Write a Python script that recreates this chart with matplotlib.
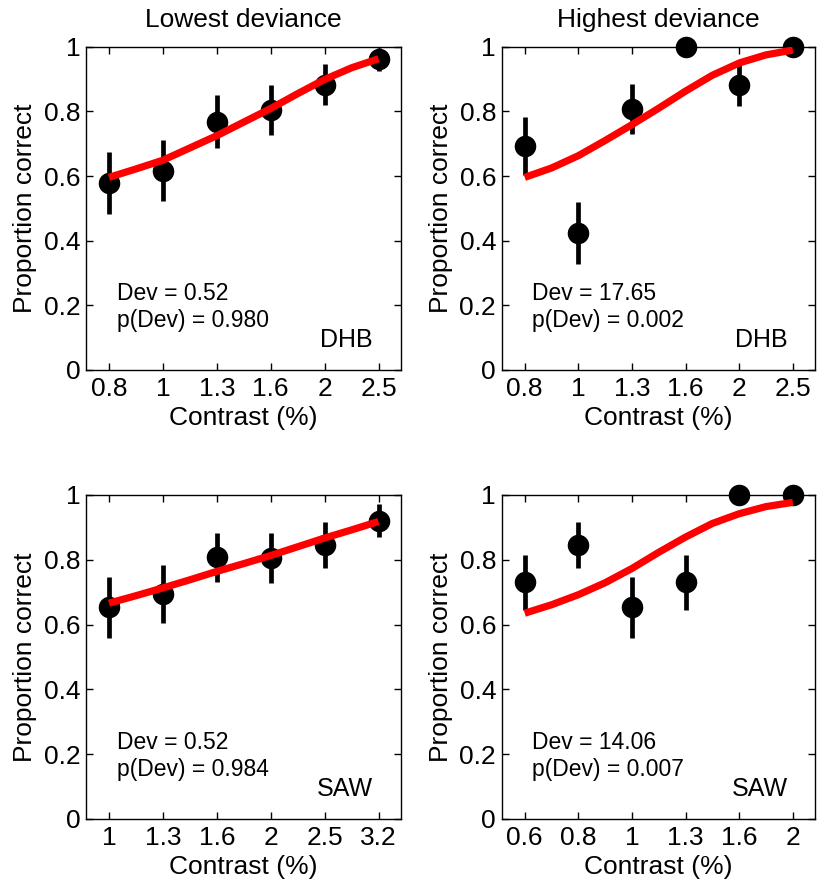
import matplotlib
matplotlib.use("Agg")
import matplotlib.pyplot as plt

plt.rcParams['font.family'] = ['Liberation Sans', 'DejaVu Sans']

# posiciones de los niveles de contraste (escala logaritmica, equiespaciados)
pos = [1, 2, 3, 4, 5, 6]
curve_pos = [1, 1.5, 2, 2.5, 3, 3.5, 4, 4.5, 5, 5.5, 6]

# DHB, menor desviacion
dhb_low_labels = ['0.8', '1', '1.3', '1.6', '2', '2.5']
dhb_low_y = [0.578, 0.617, 0.768, 0.804, 0.883, 0.961]
dhb_low_err = [0.095, 0.095, 0.082, 0.078, 0.063, 0.035]
dhb_low_fit = [0.596, 0.622, 0.649, 0.687, 0.725, 0.767, 0.809, 0.855, 0.899, 0.935, 0.963]

# DHB, mayor desviacion
dhb_high_labels = ['0.8', '1', '1.3', '1.6', '2', '2.5']
dhb_high_y = [0.692, 0.424, 0.808, 1.0, 0.883, 1.0]
dhb_high_err = [0.090, 0.095, 0.077, 0.0, 0.065, 0.0]
dhb_high_fit = [0.596, 0.625, 0.663, 0.710, 0.759, 0.810, 0.863, 0.912, 0.950, 0.975, 0.990]

# SAW, menor desviacion
saw_low_labels = ['1', '1.3', '1.6', '2', '2.5', '3.2']
saw_low_y = [0.653, 0.695, 0.807, 0.805, 0.846, 0.921]
saw_low_err = [0.093, 0.090, 0.077, 0.077, 0.071, 0.052]
saw_low_fit = [0.666, 0.689, 0.713, 0.738, 0.764, 0.788, 0.813, 0.840, 0.867, 0.892, 0.918]

# SAW, mayor desviacion
saw_high_labels = ['0.6', '0.8', '1', '1.3', '1.6', '2']
saw_high_y = [0.730, 0.846, 0.653, 0.730, 1.0, 1.0]
saw_high_err = [0.086, 0.071, 0.093, 0.086, 0.0, 0.0]
saw_high_fit = [0.635, 0.661, 0.692, 0.729, 0.773, 0.823, 0.870, 0.912, 0.942, 0.964, 0.977]

fig = plt.figure(figsize=(8.17, 8.83), dpi=100)

paneles = [
    ([0.105, 0.581, 0.386, 0.366], dhb_low_labels, dhb_low_y, dhb_low_err, dhb_low_fit,
     'Dev = 0.52', 'p(Dev) = 0.980', 'DHB', 'Lowest deviance'),
    ([0.614, 0.581, 0.384, 0.366], dhb_high_labels, dhb_high_y, dhb_high_err, dhb_high_fit,
     'Dev = 17.65', 'p(Dev) = 0.002', 'DHB', 'Highest deviance'),
    ([0.105, 0.0725, 0.386, 0.367], saw_low_labels, saw_low_y, saw_low_err, saw_low_fit,
     'Dev = 0.52', 'p(Dev) = 0.984', 'SAW', None),
    ([0.614, 0.0725, 0.384, 0.367], saw_high_labels, saw_high_y, saw_high_err, saw_high_fit,
     'Dev = 14.06', 'p(Dev) = 0.007', 'SAW', None),
]

for rect, labels, y, err, fit, t1, t2, obs, title in paneles:
    ax = fig.add_axes(rect)
    ax.errorbar(pos, y, yerr=err, fmt='o', color='black', ms=14.5, elinewidth=3.4,
                capsize=0, clip_on=False, zorder=3)
    ax.plot(curve_pos, fit, color='red', lw=5.2, solid_capstyle='butt', zorder=4)
    ax.set_xlim(0.57, 6.42)
    ax.set_ylim(0, 1)
    ax.set_xticks(pos)
    ax.set_xticklabels(labels)
    ax.set_yticks([0, 0.2, 0.4, 0.6, 0.8, 1])
    ax.set_yticklabels(['0', '0.2', '0.4', '0.6', '0.8', '1'])
    ax.tick_params(direction='in', length=5, width=1, labelsize=19, top=True, right=True)
    ax.tick_params(axis='x', pad=5)
    ax.tick_params(axis='y', pad=4)
    for s in ax.spines.values():
        s.set_linewidth(1)
    ax.set_xlabel('Contrast (%)', fontsize=19, labelpad=4)
    ax.set_ylabel('Proportion correct', fontsize=19, labelpad=5)
    ax.text(0.098, 0.217, t1, transform=ax.transAxes, fontsize=16.5)
    ax.text(0.098, 0.134, t2, transform=ax.transAxes, fontsize=16.5)
    ax.text(0.911, 0.072, obs, transform=ax.transAxes, fontsize=18, ha='right')
    if title:
        ax.set_title(title, fontsize=19, pad=14)

plt.savefig('out.png', dpi=100)
